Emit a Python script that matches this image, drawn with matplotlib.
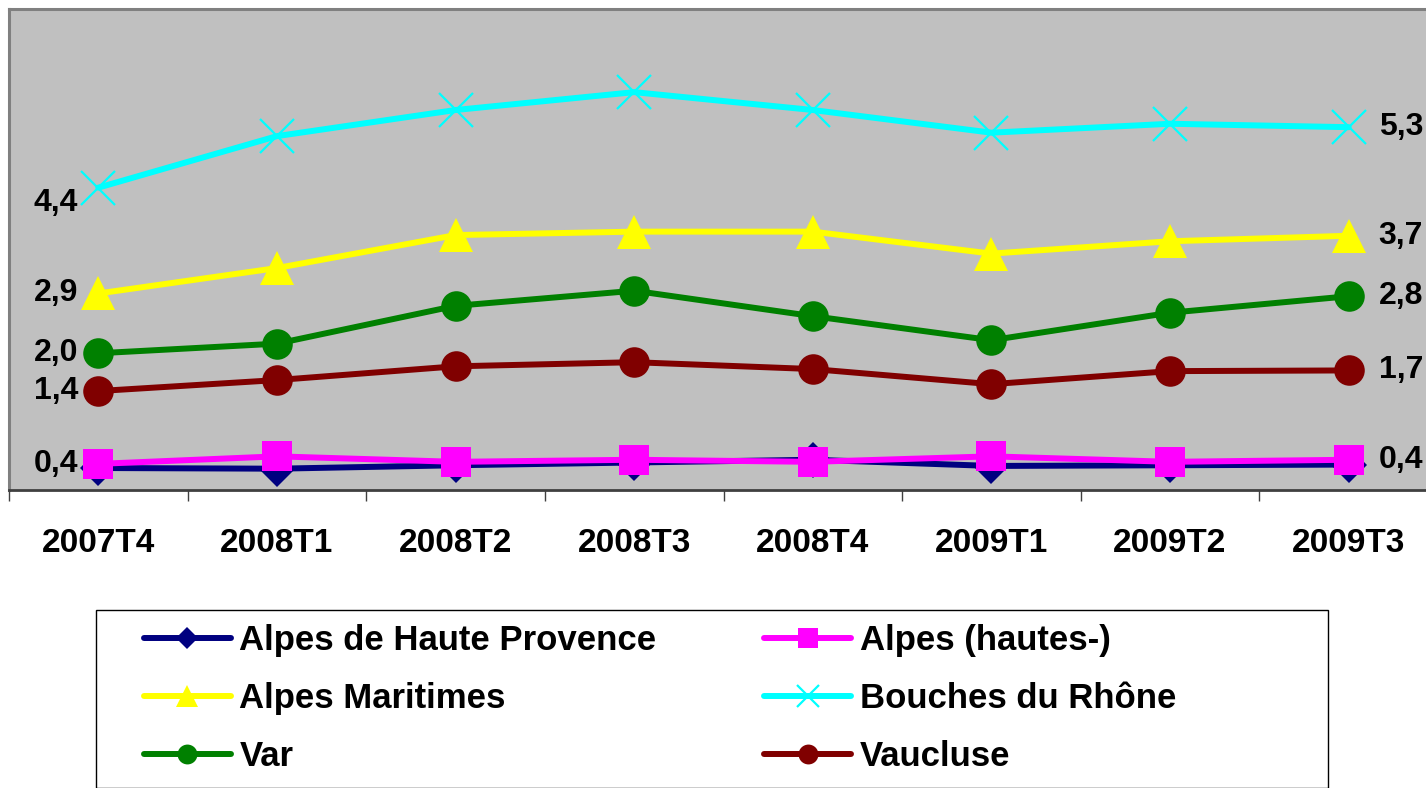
import matplotlib
matplotlib.use("Agg")
import matplotlib.pyplot as plt
from matplotlib.patches import Rectangle

plt.rcParams['font.family'] = ['Liberation Sans', 'DejaVu Sans']
plt.rcParams['font.weight'] = 'bold'

periods = ["2007T4", "2008T1", "2008T2", "2008T3", "2008T4", "2009T1", "2009T2", "2009T3"]

haute_provence = [0.32, 0.31, 0.36, 0.40, 0.44, 0.35, 0.36, 0.37]
hautes_alpes = [0.38, 0.49, 0.41, 0.44, 0.41, 0.49, 0.41, 0.44]
maritimes = [2.86, 3.23, 3.71, 3.76, 3.76, 3.44, 3.62, 3.70]
bouches = [4.40, 5.15, 5.53, 5.79, 5.53, 5.20, 5.33, 5.28]
var = [1.99, 2.13, 2.68, 2.90, 2.53, 2.18, 2.58, 2.82]
vaucluse = [1.44, 1.60, 1.80, 1.86, 1.76, 1.54, 1.73, 1.74]

# name, values, color, marker, markersize, show labels
series = [
    ("Alpes de Haute Provence", haute_provence, "#000080", "D", 18, False),
    ("Alpes (hautes-)", hautes_alpes, "#FF00FF", "s", 22, True),
    ("Alpes Maritimes", maritimes, "#FFFF00", "^", 24, True),
    ("Bouches du Rhône", bouches, "#00FFFF", "x", 24, True),
    ("Var", var, "#008000", "o", 22, True),
    ("Vaucluse", vaucluse, "#800000", "o", 22, True),
]

W, H = 1426, 788
fig = plt.figure(figsize=(W / 100, H / 100), dpi=100)
ax = fig.add_axes([9 / W, (H - 490) / H, 1429 / W, 481 / H])
ax.set_facecolor("#C0C0C0")

x = list(range(len(periods)))
for name, vals, col, mk, ms, lab in series:
    ax.plot(x, vals, color=col, lw=4.3, marker=mk, markersize=ms,
            markeredgewidth=1.6 if mk == "x" else 0, markeredgecolor=col,
            markerfacecolor=col, label=name, solid_capstyle='round')
    if lab:
        fmt = lambda v: "{:.1f}".format(v).replace(".", ",")
        dy = -15 if name == "Bouches du Rhône" else 0
        ax.annotate(fmt(vals[0]), (x[0], vals[0]), xytext=(-20, dy), textcoords='offset pixels',
                    ha='right', va='center', fontsize=23, fontweight='bold')
        ax.annotate(fmt(vals[-1]), (x[-1], vals[-1]), xytext=(30, 0), textcoords='offset pixels',
                    ha='left', va='center', fontsize=23, fontweight='bold')

ax.set_xlim(-0.5, 7.5)
ax.set_ylim(0, 7)
ax.set_yticks([])
ax.set_xticks(x)
ax.set_xticklabels(periods, fontsize=24, fontweight='bold')
ax.set_xticks([i - 0.5 for i in range(len(periods) + 1)], minor=True)
ax.tick_params(axis='x', which='major', length=0, pad=27)
ax.tick_params(axis='x', which='minor', length=8, width=1, color='#404040', direction='out')
for s in ['left', 'top', 'right']:
    ax.spines[s].set_color('#808080')
    ax.spines[s].set_linewidth(2.2)
ax.spines['bottom'].set_color('#404040')
ax.spines['bottom'].set_linewidth(2)

# legend frame
fig.add_artist(Rectangle((96 / W, 0), (1328 - 96) / W, (H - 610) / H, transform=fig.transFigure,
                         facecolor='white', edgecolor='black', lw=1, zorder=0))
handles, labels = ax.get_legend_handles_labels()
# row-wise order like the original: fill columns with every other entry
order = [0, 2, 4, 1, 3, 5]
fig.legend([handles[i] for i in order], [labels[i] for i in order], loc='upper left',
           bbox_to_anchor=(144 / W, (H - 624) / H),
           bbox_transform=fig.transFigure, ncol=2, frameon=False,
           handlelength=2.5, handletextpad=0.25, columnspacing=3.1, labelspacing=0.72,
           borderpad=0, borderaxespad=0, markerscale=0.65, prop={'weight': 'bold', 'size': 25})

fig.savefig("out.png", dpi=100)
